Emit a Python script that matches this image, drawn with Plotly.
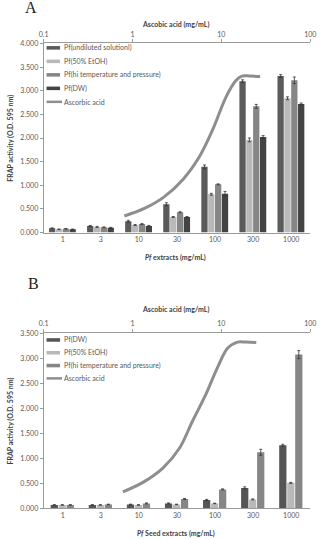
import plotly.graph_objects as go

W, H = 323, 539

categories = ["1", "3", "10", "30", "100", "300", "1000"]

# Panel A values
a_undiluted = [0.09, 0.14, 0.24, 0.60, 1.39, 3.20, 3.31]
a_etoh = [0.07, 0.12, 0.16, 0.33, 0.81, 1.96, 2.84]
a_hitemp = [0.08, 0.11, 0.18, 0.43, 1.02, 2.67, 3.22]
a_dw = [0.07, 0.10, 0.14, 0.33, 0.82, 2.02, 2.72]
a_undiluted_err = [0.01, 0.01, 0.02, 0.03, 0.04, 0.03, 0.03]
a_etoh_err = [0.005, 0.01, 0.01, 0.01, 0.02, 0.04, 0.03]
a_hitemp_err = [0.005, 0.01, 0.01, 0.01, 0.01, 0.04, 0.07]
a_dw_err = [0.005, 0.01, 0.01, 0.01, 0.05, 0.03, 0.02]
a_asc_x = [0.81, 1.36, 2.25, 3.72, 5.72, 7.96, 11.3, 14.5, 17.0, 21.0, 27.3]
a_asc_y = [0.35, 0.51, 0.75, 1.13, 1.62, 2.17, 2.87, 3.21, 3.31, 3.31, 3.30]

# Panel B values
b_dw = [0.07, 0.07, 0.08, 0.10, 0.17, 0.41, 1.26]
b_etoh = [0.07, 0.07, 0.07, 0.08, 0.10, 0.18, 0.51]
b_hitemp = [0.07, 0.08, 0.10, 0.19, 0.38, 1.12, 3.07]
b_dw_err = [0.005, 0.005, 0.005, 0.01, 0.01, 0.02, 0.02]
b_etoh_err = [0.005, 0.005, 0.005, 0.005, 0.005, 0.01, 0.01]
b_hitemp_err = [0.005, 0.005, 0.01, 0.01, 0.01, 0.06, 0.08]
b_asc_x = [0.78, 1.34, 2.21, 3.37, 4.70, 6.58, 9.2, 11.8, 15.2, 19.0, 24.7]
b_asc_y = [0.33, 0.53, 0.81, 1.20, 1.73, 2.25, 2.84, 3.20, 3.32, 3.32, 3.31]

log_ticks = [0.1, 1, 10, 100]
log_labels = ["0.1", "1", "10", "100"]

C_UND = "#5b5b5b"
C_ETOH = "#b9b9b9"
C_HI = "#868686"
C_DW = "#434343"
C_DWB = "#555555"
C_LINE = "#8e8e8e"
TXT = "#595959"
FONT = "Lato"


def px(x):
    return x / W


def py(y):
    return 1 - y / H


fig = go.Figure()


def add_bar(vals, errs, color, xa, ya, offset, width, name):
    fig.add_trace(go.Bar(
        x=list(range(len(categories))), y=vals, name=name, xaxis=xa, yaxis=ya,
        marker=dict(color=color, line=dict(width=0)),
        width=width, offset=offset, showlegend=False,
        error_y=dict(type="data", array=errs, visible=True, color="#333333",
                     thickness=0.8, width=1.5),
    ))


wa = 0.165
step_a = 0.18
add_bar(a_undiluted, a_undiluted_err, C_UND, "x", "y", -2 * step_a, wa, "Pf(undiluted solutionl)")
add_bar(a_etoh, a_etoh_err, C_ETOH, "x", "y", -1 * step_a, wa, "Pf(50% EtOH)")
add_bar(a_hitemp, a_hitemp_err, C_HI, "x", "y", 0, wa, "Pf(hi temperature and pressure)")
add_bar(a_dw, a_dw_err, C_DW, "x", "y", step_a, wa, "Pf(DW)")
fig.add_trace(go.Scatter(x=a_asc_x, y=a_asc_y, xaxis="x2", yaxis="y", mode="lines",
                         line=dict(color=C_LINE, width=3, shape="spline", smoothing=1.0),
                         showlegend=False, name="Ascorbic acid"))

wb = 0.19
step_b = 0.21
add_bar(b_dw, b_dw_err, C_DWB, "x3", "y2", -1.5 * step_b, wb, "Pf(DW)")
add_bar(b_etoh, b_etoh_err, C_ETOH, "x3", "y2", -0.5 * step_b, wb, "Pf(50% EtOH)")
add_bar(b_hitemp, b_hitemp_err, C_HI, "x3", "y2", 0.5 * step_b, wb, "Pf(hi temperature and pressure)")
fig.add_trace(go.Scatter(x=b_asc_x, y=b_asc_y, xaxis="x4", yaxis="y2", mode="lines",
                         line=dict(color=C_LINE, width=3, shape="spline", smoothing=1.0),
                         showlegend=False, name="Ascorbic acid"))

xdom = [px(40), px(316)]
ydomA = [py(231), py(39)]
ydomB = [py(511), py(333)]

axfont = dict(family=FONT, size=7, color=TXT)
AXC = "#9a9a9a"

cat_axis = dict(domain=xdom, range=[-0.5, 6.5], tickmode="array",
                tickvals=list(range(len(categories))), ticktext=categories,
                showgrid=False, zeroline=False, showline=True, linecolor=AXC,
                linewidth=1, ticks="", tickfont=axfont)
log_axis = dict(type="log", range=[-1, 2], tickmode="array", tickvals=log_ticks,
                ticktext=log_labels, side="top", showgrid=False, zeroline=False,
                showline=True, linecolor=AXC, linewidth=1, ticks="outside",
                ticklen=3, tickcolor=AXC, tickfont=axfont)

fig.update_layout(
    width=W, height=H, margin=dict(l=0, r=0, t=0, b=0),
    paper_bgcolor="white", plot_bgcolor="white", barmode="overlay",
    font=dict(family=FONT, size=7, color=TXT),
    xaxis=dict(**cat_axis, anchor="y"),
    xaxis2=dict(**log_axis, overlaying="x", anchor="y"),
    yaxis=dict(domain=ydomA, range=[0, 4], dtick=0.5, tickformat=".3f",
               showgrid=False, zeroline=False, showline=True, linecolor=AXC,
               ticks="outside", ticklen=3, tickcolor=AXC, tickfont=axfont, anchor="x"),
    xaxis3=dict(**cat_axis, anchor="y2"),
    xaxis4=dict(**log_axis, overlaying="x3", anchor="y2"),
    yaxis2=dict(domain=ydomB, range=[0, 3.5], dtick=0.5, tickformat=".3f",
                showgrid=False, zeroline=False, showline=True, linecolor=AXC,
                ticks="outside", ticklen=3, tickcolor=AXC, tickfont=axfont, anchor="x3"),
)

ann = []
shapes = []
bold = dict(family=FONT, size=7, color="#404040")

# Panel letters
ann.append(dict(text="A", x=px(27), y=py(3), xref="paper", yref="paper", showarrow=False,
                font=dict(family="Liberation Serif", size=16, color="#222222"),
                xanchor="center", yanchor="middle"))
ann.append(dict(text="B", x=px(30), y=py(283), xref="paper", yref="paper", showarrow=False,
                font=dict(family="Liberation Serif", size=16, color="#222222"),
                xanchor="center", yanchor="middle"))

# Axis titles
for yy, txt in [(20, "<b>Ascobic acid (mg/mL)</b>"), (309, "<b>Ascobic acid (mg/mL)</b>"),
                (256, "<b><i>Pf</i> extracts (mg/mL)</b>"), (536, "<b><i>Pf</i> Seed extracts (mg/mL)</b>")]:
    ann.append(dict(text=txt, x=px(177), y=py(yy), xref="paper", yref="paper",
                    showarrow=False, font=bold, xanchor="center", yanchor="middle"))
for yy in [135, 422]:
    ann.append(dict(text="<b>FRAP activity (O.D. 595 nm)</b>", x=px(6), y=py(yy),
                    xref="paper", yref="paper", showarrow=False, font=bold,
                    textangle=-90, xanchor="center", yanchor="middle"))

# Custom legends
legA = [("Pf(undiluted solutionl)", C_UND, "bar"), ("Pf(50% EtOH)", C_ETOH, "bar"),
        ("Pf(hi temperature and pressure)", C_HI, "bar"), ("Pf(DW)", C_DW, "bar"),
        ("Ascorbic acid", C_LINE, "line")]
legB = [("Pf(DW)", C_DWB, "bar"), ("Pf(50% EtOH)", C_ETOH, "bar"),
        ("Pf(hi temperature and pressure)", C_HI, "bar"), ("Ascorbic acid", C_LINE, "line")]


def add_legend(items, y0, dy):
    for i, (txt, col, kind) in enumerate(items):
        yc = y0 + i * dy
        if kind == "bar":
            shapes.append(dict(type="rect", xref="paper", yref="paper",
                               x0=px(43), x1=px(57), y0=py(yc + 1.8), y1=py(yc - 1.8),
                               fillcolor=col, line=dict(width=0)))
        else:
            shapes.append(dict(type="line", xref="paper", yref="paper",
                               x0=px(43), x1=px(59), y0=py(yc), y1=py(yc),
                               line=dict(color=col, width=2.5)))
        ann.append(dict(text=txt, x=px(59.5 if kind == "bar" else 58.5), y=py(yc),
                        xref="paper", yref="paper", showarrow=False,
                        font=dict(family=FONT, size=7, color=TXT),
                        xanchor="left", yanchor="middle"))


add_legend(legA, 43.5, 13.7)
add_legend(legB, 340, 13.0)

fig.update_layout(annotations=ann, shapes=shapes)

fig.write_html("out.html")
